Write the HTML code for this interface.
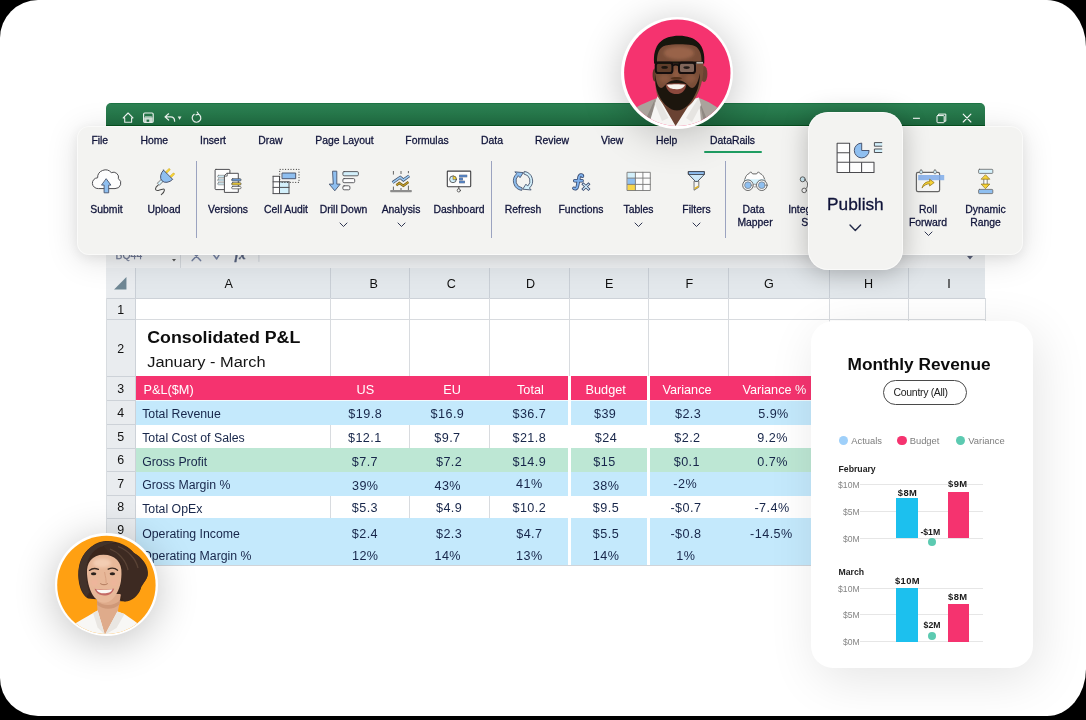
<!DOCTYPE html>
<html>
<head>
<meta charset="utf-8">
<title>DataRails</title>
<style>
*{box-sizing:border-box;margin:0;padding:0}
html,body{width:1086px;height:720px;overflow:hidden;background:#000}
body{font-family:"Liberation Sans",sans-serif;position:relative}
#bg{will-change:transform;position:absolute;left:0;top:0;width:1086px;height:716px;background:#fff;overflow:hidden;
 border-top-left-radius:38px 38px;border-bottom-left-radius:38px 38px;border-top-right-radius:39px 47px;border-bottom-right-radius:39px 47px}
.a{position:absolute}
.t{position:absolute;white-space:nowrap}
.hdr{position:absolute;background:#e3e8ec}
.ht{position:absolute;white-space:nowrap;font-size:12px;color:#111;text-align:center;line-height:14px}
.c{position:absolute;white-space:nowrap;font-size:12px;color:#1b2440;line-height:14px}
.n{text-align:center}
.w{color:#fff;font-size:12.7px}
.tab{position:absolute;font-size:10.4px;color:#10143a;-webkit-text-stroke:.28px #10143a;white-space:nowrap;line-height:12px}
.lbl{position:absolute;font-size:10.4px;color:#10143a;-webkit-text-stroke:.28px #10143a;white-space:nowrap;line-height:13px;text-align:center;width:90px;margin-left:-45px}
.rdiv{position:absolute;top:160.5px;width:1.2px;height:77px;background:#9ba3c0}
svg{position:absolute;overflow:visible}
</style>
</head>
<body>
<div id="bg">
<div class="a" style="left:106.2px;top:103px;width:879.3px;height:463px;background:#fff;border-radius:6px 5px 0 0"></div>
<div class="a" style="left:106.2px;top:102.8px;width:879.3px;height:30px;background:linear-gradient(#136c3b 0,#2d8153 1.2px,#26784b 11px,#1f6c41 21.8px,#07531f 22.4px,#07531f 23.2px);border-radius:5px 5px 0 0"></div>
<div class="a" style="left:106.2px;top:253px;width:879.3px;height:15.3px;background:#eef0f2;"></div>

<svg style="left:0;top:0" width="1086" height="716" viewBox="0 0 1086 716" fill="none" stroke="#fff" stroke-linejoin="round" stroke-linecap="round">
<!-- home -->
<path d="M123.2 117.9L128.1 113L133 117.9H131.6V122.3H124.7V117.9Z" stroke-width="1.1" stroke-opacity=".92"/>
<!-- save -->
<rect x="143.6" y="113" width="9.6" height="9.4" rx="1.2" stroke-width="1.2" stroke-opacity=".92"/>
<rect x="144.2" y="117.4" width="8.4" height="4.6" fill="#fff" fill-opacity=".8" stroke="none"/>
<rect x="146.6" y="119.6" width="2.6" height="2.2" fill="#1f6e42" stroke="none"/>
<path d="M145.4 116.9H151.4" stroke-width=".9" stroke-opacity=".9"/>
<!-- undo -->
<path d="M168.6 113.8L165 116.9L168.6 120M165.4 116.9H170.6C173.4 116.9 174.6 118.8 174.6 121.2" stroke-width="1.25" stroke-opacity=".92"/>
<path d="M177.7 116.6H181.5L179.6 119.7Z" fill="#fff" fill-opacity=".9" stroke="none"/>
<!-- redo -->
<path d="M194.2 114.3A4.3 4.3 0 1 0 198.2 114" stroke-width="1.2" stroke-opacity=".92"/>
<path d="M197.2 112L198.5 114.2L196 114.9" stroke-width="1.1" stroke-opacity=".92"/>
<!-- window controls -->
<path d="M913 118.3H919.9" stroke-width="1.1" stroke-linecap="butt"/>
<rect x="937" y="115.6" width="7.2" height="7.1" rx=".8" stroke-width="1"/>
<path d="M938.6 115.4V114.1H945.8V121.2H944.4" stroke-width="1"/>
<path d="M963.2 114.2L970.9 122M970.9 114.2L963.2 122" stroke-width="1.1"/>
</svg>

<div class="t" style="left:115.6px;top:250.2px;font-size:10.4px;color:#6f7893;-webkit-text-stroke:.25px #6f7893;line-height:12px">BQ44</div>
<svg style="left:171.8px;top:259px" width="4" height="2.6" viewBox="0 0 4 2.6"><path d="M0 0H4L2 2.6Z" fill="#555"/></svg>
<div class="a" style="left:180.2px;top:254px;width:1px;height:14px;background:#d4d8dd;"></div>
<svg style="left:0;top:0" width="1086" height="716" viewBox="0 0 1086 716" fill="none" stroke="#8d96b0" stroke-width="1" stroke-linecap="round">
<path d="M192.2 251.8L200.6 260.6M200.6 251.8L192.2 260.6" stroke="#7683a3" stroke-width="1.5"/>
<path d="M212.6 253.6L216.7 259L221.4 250.8" stroke="#7683a3" stroke-width="1.5" stroke-linejoin="round"/>
<path d="M258.9 254V261.5" stroke="#cfd4da"/>
</svg>
<div class="t" style="left:234.5px;top:247.6px;font-family:'Liberation Serif',serif;font-style:italic;font-weight:bold;font-size:13.5px;color:#59647f;-webkit-text-stroke:.3px #59647f;line-height:14px">fx</div>
<div class="a" style="left:968.5px;top:254.5px;width:0px;height:0px;background:transparent;"></div>
<svg style="left:966.6px;top:256.2px" width="6" height="3.6" viewBox="0 0 6 3.6"><path d="M0 0H6L3 3.6Z" fill="#596078"/></svg>
<div class="a" style="left:106.2px;top:268.2px;width:879.0999999999999px;height:29.80000000000001px;background:#e3e8ec;"></div>
<div class="a" style="left:106.2px;top:268.2px;width:29.299999999999997px;height:296.50000000000006px;background:#e9ecef;"></div>
<div class="a" style="left:135.0px;top:268.2px;width:1px;height:29.80000000000001px;background:#c9cfd6;"></div>
<div class="a" style="left:329.8px;top:268.2px;width:1px;height:29.80000000000001px;background:#c9cfd6;"></div>
<div class="a" style="left:409.1px;top:268.2px;width:1px;height:29.80000000000001px;background:#c9cfd6;"></div>
<div class="a" style="left:488.9px;top:268.2px;width:1px;height:29.80000000000001px;background:#c9cfd6;"></div>
<div class="a" style="left:568.7px;top:268.2px;width:1px;height:29.80000000000001px;background:#c9cfd6;"></div>
<div class="a" style="left:648.4px;top:268.2px;width:1px;height:29.80000000000001px;background:#c9cfd6;"></div>
<div class="a" style="left:728.3px;top:268.2px;width:1px;height:29.80000000000001px;background:#c9cfd6;"></div>
<div class="a" style="left:828.6px;top:268.2px;width:1px;height:29.80000000000001px;background:#c9cfd6;"></div>
<div class="a" style="left:908.0px;top:268.2px;width:1px;height:29.80000000000001px;background:#c9cfd6;"></div>
<div class="a" style="left:106.2px;top:297.5px;width:879.0999999999999px;height:1px;background:#cdd2d8;"></div>
<div class="t" style="left:208.60px;top:276px;width:40px;text-align:center;font-size:12.6px;line-height:16px;color:#111;">A</div>
<div class="t" style="left:353.60px;top:276px;width:40px;text-align:center;font-size:12.6px;line-height:16px;color:#111;">B</div>
<div class="t" style="left:431.40px;top:276px;width:40px;text-align:center;font-size:12.6px;line-height:16px;color:#111;">C</div>
<div class="t" style="left:510.60px;top:276px;width:40px;text-align:center;font-size:12.6px;line-height:16px;color:#111;">D</div>
<div class="t" style="left:589.10px;top:276px;width:40px;text-align:center;font-size:12.6px;line-height:16px;color:#111;">E</div>
<div class="t" style="left:669.30px;top:276px;width:40px;text-align:center;font-size:12.6px;line-height:16px;color:#111;">F</div>
<div class="t" style="left:748.80px;top:276px;width:40px;text-align:center;font-size:12.6px;line-height:16px;color:#111;">G</div>
<div class="t" style="left:848.50px;top:276px;width:40px;text-align:center;font-size:12.6px;line-height:16px;color:#111;">H</div>
<div class="t" style="left:928.90px;top:276px;width:40px;text-align:center;font-size:12.6px;line-height:16px;color:#111;">I</div>
<svg style="left:113.5px;top:277px" width="12.5" height="12.4" viewBox="0 0 12 12"><path d="M12 0V12H0Z" fill="#6f8794"/></svg>
<div class="a" style="left:106.2px;top:297.5px;width:29.299999999999997px;height:1px;background:#cdd2d8;"></div>
<div class="a" style="left:106.2px;top:319.0px;width:29.299999999999997px;height:1px;background:#cdd2d8;"></div>
<div class="a" style="left:106.2px;top:375.7px;width:29.299999999999997px;height:1px;background:#cdd2d8;"></div>
<div class="a" style="left:106.2px;top:399.8px;width:29.299999999999997px;height:1px;background:#cdd2d8;"></div>
<div class="a" style="left:106.2px;top:424.4px;width:29.299999999999997px;height:1px;background:#cdd2d8;"></div>
<div class="a" style="left:106.2px;top:447.9px;width:29.299999999999997px;height:1px;background:#cdd2d8;"></div>
<div class="a" style="left:106.2px;top:471.3px;width:29.299999999999997px;height:1px;background:#cdd2d8;"></div>
<div class="a" style="left:106.2px;top:495.3px;width:29.299999999999997px;height:1px;background:#cdd2d8;"></div>
<div class="a" style="left:106.2px;top:517.9px;width:29.299999999999997px;height:1px;background:#cdd2d8;"></div>
<div class="a" style="left:135.0px;top:298px;width:1px;height:266.70000000000005px;background:#cdd2d8;"></div>
<div class="a" style="left:106.2px;top:298px;width:1px;height:266.70000000000005px;background:#d8dce0;"></div>
<div class="t" style="left:106.80px;top:302px;width:28px;text-align:center;font-size:12.4px;line-height:16px;color:#111;">1</div>
<div class="t" style="left:106.80px;top:341px;width:28px;text-align:center;font-size:12.4px;line-height:16px;color:#111;">2</div>
<div class="t" style="left:106.80px;top:381px;width:28px;text-align:center;font-size:12.4px;line-height:16px;color:#111;">3</div>
<div class="t" style="left:106.80px;top:405px;width:28px;text-align:center;font-size:12.4px;line-height:16px;color:#111;">4</div>
<div class="t" style="left:106.80px;top:429px;width:28px;text-align:center;font-size:12.4px;line-height:16px;color:#111;">5</div>
<div class="t" style="left:106.80px;top:452px;width:28px;text-align:center;font-size:12.4px;line-height:16px;color:#111;">6</div>
<div class="t" style="left:106.80px;top:476px;width:28px;text-align:center;font-size:12.4px;line-height:16px;color:#111;">7</div>
<div class="t" style="left:106.80px;top:499px;width:28px;text-align:center;font-size:12.4px;line-height:16px;color:#111;">8</div>
<div class="t" style="left:106.80px;top:522px;width:28px;text-align:center;font-size:12.4px;line-height:16px;color:#111;">9</div>
<div class="a" style="left:329.8px;top:298px;width:1px;height:78.19999999999999px;background:#d8dbdf;"></div>
<div class="a" style="left:409.1px;top:298px;width:1px;height:78.19999999999999px;background:#d8dbdf;"></div>
<div class="a" style="left:488.9px;top:298px;width:1px;height:78.19999999999999px;background:#d8dbdf;"></div>
<div class="a" style="left:568.7px;top:298px;width:1px;height:78.19999999999999px;background:#d8dbdf;"></div>
<div class="a" style="left:648.4px;top:298px;width:1px;height:78.19999999999999px;background:#d8dbdf;"></div>
<div class="a" style="left:728.3px;top:298px;width:1px;height:78.19999999999999px;background:#d8dbdf;"></div>
<div class="a" style="left:828.6px;top:298px;width:1px;height:78.19999999999999px;background:#d8dbdf;"></div>
<div class="a" style="left:908.0px;top:298px;width:1px;height:78.19999999999999px;background:#d8dbdf;"></div>
<div class="a" style="left:135.5px;top:319.0px;width:849.8px;height:1px;background:#d8dbdf;"></div>
<div class="a" style="left:135.5px;top:376.2px;width:693.6px;height:24.100000000000023px;background:#f5336f;"></div>
<div class="a" style="left:135.5px;top:400.3px;width:693.6px;height:24.599999999999966px;background:#c4e9fc;"></div>
<div class="a" style="left:135.5px;top:400.0px;width:693.6px;height:1px;background:rgba(255,255,255,.75);"></div>
<div class="a" style="left:135.5px;top:448.4px;width:693.6px;height:23.400000000000034px;background:#bde7d4;"></div>
<div class="a" style="left:135.5px;top:471.8px;width:693.6px;height:24.0px;background:#c4e9fc;"></div>
<div class="a" style="left:135.5px;top:518.4px;width:693.6px;height:46.30000000000007px;background:#c4e9fc;"></div>
<div class="a" style="left:329.8px;top:424.9px;width:1px;height:23.5px;background:#d8dbdf;"></div>
<div class="a" style="left:409.1px;top:424.9px;width:1px;height:23.5px;background:#d8dbdf;"></div>
<div class="a" style="left:488.9px;top:424.9px;width:1px;height:23.5px;background:#d8dbdf;"></div>
<div class="a" style="left:329.8px;top:495.8px;width:1px;height:22.599999999999966px;background:#d8dbdf;"></div>
<div class="a" style="left:409.1px;top:495.8px;width:1px;height:22.599999999999966px;background:#d8dbdf;"></div>
<div class="a" style="left:488.9px;top:495.8px;width:1px;height:22.599999999999966px;background:#d8dbdf;"></div>
<div class="a" style="left:567.7px;top:376.2px;width:3.6px;height:188.50000000000006px;background:#fff;"></div>
<div class="a" style="left:646.6px;top:376.2px;width:3.6px;height:188.50000000000006px;background:#fff;"></div>
<div class="a" style="left:985px;top:298px;width:1px;height:266.70000000000005px;background:#d9dde1;"></div>
<div class="a" style="left:106.2px;top:564.7px;width:723.9px;height:1px;background:#d0d4d9;"></div>
<div class="t" style="left:147.20px;top:326px;font-size:17.8px;line-height:22px;color:#0d0d0d;font-weight:bold;transform:scaleY(0.895);transform-origin:0 17px;">Consolidated P&amp;L</div>
<div class="t" style="left:147.20px;top:351px;font-size:16.4px;line-height:20px;color:#151515;transform:scaleY(0.877);transform-origin:0 16px;">January - March</div>
<div class="t" style="left:143.60px;top:382px;font-size:12.7px;line-height:16px;color:#fff;">P&amp;L($M)</div>
<div class="t" style="left:305.40px;top:382px;width:120px;text-align:center;font-size:12.7px;line-height:16px;color:#fff;">US</div>
<div class="t" style="left:392.10px;top:382px;width:120px;text-align:center;font-size:12.7px;line-height:16px;color:#fff;">EU</div>
<div class="t" style="left:470.40px;top:382px;width:120px;text-align:center;font-size:12.7px;line-height:16px;color:#fff;">Total</div>
<div class="t" style="left:545.70px;top:382px;width:120px;text-align:center;font-size:12.7px;line-height:16px;color:#fff;">Budget</div>
<div class="t" style="left:627.00px;top:382px;width:120px;text-align:center;font-size:12.7px;line-height:16px;color:#fff;">Variance</div>
<div class="t" style="left:714.40px;top:382px;width:120px;text-align:center;font-size:12.7px;line-height:16px;color:#fff;">Variance %</div>
<div class="t" style="left:142.20px;top:407px;font-size:12.3px;line-height:15px;color:#17264a;">Total Revenue</div>
<div class="t" style="left:142.20px;top:431px;font-size:12.3px;line-height:15px;color:#17264a;">Total Cost of Sales</div>
<div class="t" style="left:142.20px;top:455px;font-size:12.3px;line-height:15px;color:#17264a;">Gross Profit</div>
<div class="t" style="left:142.20px;top:478px;font-size:12.3px;line-height:15px;color:#17264a;">Gross Margin %</div>
<div class="t" style="left:142.20px;top:502px;font-size:12.3px;line-height:15px;color:#17264a;">Total OpEx</div>
<div class="t" style="left:142.20px;top:527px;font-size:12.3px;line-height:15px;color:#17264a;">Operating Income</div>
<div class="t" style="left:142.20px;top:549px;font-size:12.3px;line-height:15px;color:#17264a;">Operating Margin %</div>
<div class="t" style="left:305.23px;top:406px;width:120px;text-align:center;font-size:12.6px;line-height:16px;color:#17264a;letter-spacing:0.45px;">$19.8</div>
<div class="t" style="left:387.43px;top:406px;width:120px;text-align:center;font-size:12.6px;line-height:16px;color:#17264a;letter-spacing:0.45px;">$16.9</div>
<div class="t" style="left:469.33px;top:406px;width:120px;text-align:center;font-size:12.6px;line-height:16px;color:#17264a;letter-spacing:0.45px;">$36.7</div>
<div class="t" style="left:545.12px;top:406px;width:120px;text-align:center;font-size:12.6px;line-height:16px;color:#17264a;letter-spacing:0.45px;">$39</div>
<div class="t" style="left:628.12px;top:406px;width:120px;text-align:center;font-size:12.6px;line-height:16px;color:#17264a;letter-spacing:0.45px;">$2.3</div>
<div class="t" style="left:713.52px;top:406px;width:120px;text-align:center;font-size:12.6px;line-height:16px;color:#17264a;letter-spacing:0.45px;">5.9%</div>
<div class="t" style="left:304.83px;top:430px;width:120px;text-align:center;font-size:12.6px;line-height:16px;color:#17264a;letter-spacing:0.45px;">$12.1</div>
<div class="t" style="left:387.43px;top:430px;width:120px;text-align:center;font-size:12.6px;line-height:16px;color:#17264a;letter-spacing:0.45px;">$9.7</div>
<div class="t" style="left:469.33px;top:430px;width:120px;text-align:center;font-size:12.6px;line-height:16px;color:#17264a;letter-spacing:0.45px;">$21.8</div>
<div class="t" style="left:546.02px;top:430px;width:120px;text-align:center;font-size:12.6px;line-height:16px;color:#17264a;letter-spacing:0.45px;">$24</div>
<div class="t" style="left:627.43px;top:430px;width:120px;text-align:center;font-size:12.6px;line-height:16px;color:#17264a;letter-spacing:0.45px;">$2.2</div>
<div class="t" style="left:712.62px;top:430px;width:120px;text-align:center;font-size:12.6px;line-height:16px;color:#17264a;letter-spacing:0.45px;">9.2%</div>
<div class="t" style="left:304.93px;top:454px;width:120px;text-align:center;font-size:12.6px;line-height:16px;color:#17264a;letter-spacing:0.45px;">$7.7</div>
<div class="t" style="left:389.12px;top:454px;width:120px;text-align:center;font-size:12.6px;line-height:16px;color:#17264a;letter-spacing:0.45px;">$7.2</div>
<div class="t" style="left:469.33px;top:454px;width:120px;text-align:center;font-size:12.6px;line-height:16px;color:#17264a;letter-spacing:0.45px;">$14.9</div>
<div class="t" style="left:544.52px;top:454px;width:120px;text-align:center;font-size:12.6px;line-height:16px;color:#17264a;letter-spacing:0.45px;">$15</div>
<div class="t" style="left:626.83px;top:454px;width:120px;text-align:center;font-size:12.6px;line-height:16px;color:#17264a;letter-spacing:0.45px;">$0.1</div>
<div class="t" style="left:712.62px;top:454px;width:120px;text-align:center;font-size:12.6px;line-height:16px;color:#17264a;letter-spacing:0.45px;">0.7%</div>
<div class="t" style="left:305.23px;top:478px;width:120px;text-align:center;font-size:12.6px;line-height:16px;color:#17264a;letter-spacing:0.45px;">39%</div>
<div class="t" style="left:387.73px;top:478px;width:120px;text-align:center;font-size:12.6px;line-height:16px;color:#17264a;letter-spacing:0.45px;">43%</div>
<div class="t" style="left:469.33px;top:476px;width:120px;text-align:center;font-size:12.6px;line-height:16px;color:#17264a;letter-spacing:0.45px;">41%</div>
<div class="t" style="left:625.23px;top:476px;width:120px;text-align:center;font-size:12.6px;line-height:16px;color:#17264a;letter-spacing:0.45px;">-2%</div>
<div class="t" style="left:546.02px;top:478px;width:120px;text-align:center;font-size:12.6px;line-height:16px;color:#17264a;letter-spacing:0.45px;">38%</div>
<div class="t" style="left:304.93px;top:500px;width:120px;text-align:center;font-size:12.6px;line-height:16px;color:#17264a;letter-spacing:0.45px;">$5.3</div>
<div class="t" style="left:389.12px;top:500px;width:120px;text-align:center;font-size:12.6px;line-height:16px;color:#17264a;letter-spacing:0.45px;">$4.9</div>
<div class="t" style="left:469.33px;top:500px;width:120px;text-align:center;font-size:12.6px;line-height:16px;color:#17264a;letter-spacing:0.45px;">$10.2</div>
<div class="t" style="left:546.02px;top:500px;width:120px;text-align:center;font-size:12.6px;line-height:16px;color:#17264a;letter-spacing:0.45px;">$9.5</div>
<div class="t" style="left:625.93px;top:500px;width:120px;text-align:center;font-size:12.6px;line-height:16px;color:#17264a;letter-spacing:0.45px;">-$0.7</div>
<div class="t" style="left:712.02px;top:500px;width:120px;text-align:center;font-size:12.6px;line-height:16px;color:#17264a;letter-spacing:0.45px;">-7.4%</div>
<div class="t" style="left:304.93px;top:526px;width:120px;text-align:center;font-size:12.6px;line-height:16px;color:#17264a;letter-spacing:0.45px;">$2.4</div>
<div class="t" style="left:389.12px;top:526px;width:120px;text-align:center;font-size:12.6px;line-height:16px;color:#17264a;letter-spacing:0.45px;">$2.3</div>
<div class="t" style="left:469.33px;top:526px;width:120px;text-align:center;font-size:12.6px;line-height:16px;color:#17264a;letter-spacing:0.45px;">$4.7</div>
<div class="t" style="left:546.02px;top:526px;width:120px;text-align:center;font-size:12.6px;line-height:16px;color:#17264a;letter-spacing:0.45px;">$5.5</div>
<div class="t" style="left:625.93px;top:526px;width:120px;text-align:center;font-size:12.6px;line-height:16px;color:#17264a;letter-spacing:0.45px;">-$0.8</div>
<div class="t" style="left:711.43px;top:526px;width:120px;text-align:center;font-size:12.6px;line-height:16px;color:#17264a;letter-spacing:0.45px;">-14.5%</div>
<div class="t" style="left:305.23px;top:548px;width:120px;text-align:center;font-size:12.6px;line-height:16px;color:#17264a;letter-spacing:0.45px;">12%</div>
<div class="t" style="left:387.73px;top:548px;width:120px;text-align:center;font-size:12.6px;line-height:16px;color:#17264a;letter-spacing:0.45px;">14%</div>
<div class="t" style="left:469.33px;top:548px;width:120px;text-align:center;font-size:12.6px;line-height:16px;color:#17264a;letter-spacing:0.45px;">13%</div>
<div class="t" style="left:546.02px;top:548px;width:120px;text-align:center;font-size:12.6px;line-height:16px;color:#17264a;letter-spacing:0.45px;">14%</div>
<div class="t" style="left:625.93px;top:548px;width:120px;text-align:center;font-size:12.6px;line-height:16px;color:#17264a;letter-spacing:0.45px;">1%</div>
<div class="a" style="left:77.2px;top:125.8px;width:946.2px;height:129px;background:#f3f3f1;border-radius:12px;box-shadow:0 3px 12px rgba(0,0,0,.065),0 5px 32px rgba(0,0,0,.125),inset 0 0 0 1px rgba(255,255,255,.55)"></div>
<div class="tab" style="left:91.4px;top:134.7px">File</div>
<div class="tab" style="left:140.4px;top:134.7px">Home</div>
<div class="tab" style="left:200px;top:134.7px">Insert</div>
<div class="tab" style="left:258.3px;top:134.7px">Draw</div>
<div class="tab" style="left:315.3px;top:134.7px">Page Layout</div>
<div class="tab" style="left:405.3px;top:134.7px">Formulas</div>
<div class="tab" style="left:481px;top:134.7px">Data</div>
<div class="tab" style="left:535px;top:134.7px">Review</div>
<div class="tab" style="left:601px;top:134.7px">View</div>
<div class="tab" style="left:656px;top:134.7px">Help</div>
<div class="tab" style="left:710px;top:134.7px">DataRails</div>
<div class="a" style="left:704.3px;top:150.9px;width:58px;height:2.1px;background:#1f9d62;border-radius:1px"></div>
<div class="rdiv" style="left:195.5px"></div>
<div class="rdiv" style="left:490.8px"></div>
<div class="rdiv" style="left:724.9px"></div>
<div class="lbl" style="left:106.5px;top:203px">Submit</div>
<div class="lbl" style="left:164px;top:203px">Upload</div>
<div class="lbl" style="left:228px;top:203px">Versions</div>
<div class="lbl" style="left:286px;top:203px">Cell Audit</div>
<div class="lbl" style="left:343.5px;top:203px">Drill Down</div>
<div class="lbl" style="left:401px;top:203px">Analysis</div>
<div class="lbl" style="left:459px;top:203px">Dashboard</div>
<div class="lbl" style="left:523px;top:203px">Refresh</div>
<div class="lbl" style="left:581px;top:203px">Functions</div>
<div class="lbl" style="left:638.5px;top:203px">Tables</div>
<div class="lbl" style="left:696.5px;top:203px">Filters</div>
<div class="lbl" style="left:755px;top:203px">Data&nbsp;<br>Mapper</div>
<div class="lbl" style="left:812.7px;top:203px">Integration<br>Sync</div>
<div class="lbl" style="left:928px;top:203px">Roll<br>Forward</div>
<div class="lbl" style="left:985.5px;top:203px">Dynamic<br>Range</div>
<svg style="left:340.0px;top:222.75px" width="7" height="3.5" viewBox="0 0 7 3.5"><path d="M0 0L3.5 3.5L7 0" fill="none" stroke="#252c4a" stroke-width="0.95" stroke-linecap="round" stroke-linejoin="round"/></svg>
<svg style="left:397.5px;top:222.75px" width="7" height="3.5" viewBox="0 0 7 3.5"><path d="M0 0L3.5 3.5L7 0" fill="none" stroke="#252c4a" stroke-width="0.95" stroke-linecap="round" stroke-linejoin="round"/></svg>
<svg style="left:635.0px;top:222.75px" width="7" height="3.5" viewBox="0 0 7 3.5"><path d="M0 0L3.5 3.5L7 0" fill="none" stroke="#252c4a" stroke-width="0.95" stroke-linecap="round" stroke-linejoin="round"/></svg>
<svg style="left:693.0px;top:222.75px" width="7" height="3.5" viewBox="0 0 7 3.5"><path d="M0 0L3.5 3.5L7 0" fill="none" stroke="#252c4a" stroke-width="0.95" stroke-linecap="round" stroke-linejoin="round"/></svg>
<svg style="left:924.5px;top:231.75px" width="7" height="3.5" viewBox="0 0 7 3.5"><path d="M0 0L3.5 3.5L7 0" fill="none" stroke="#252c4a" stroke-width="0.95" stroke-linecap="round" stroke-linejoin="round"/></svg>

<svg style="left:0;top:0" width="1086" height="716" viewBox="0 0 1086 716" fill="none" stroke-linejoin="round" stroke-linecap="round">
<!-- submit: cloud + arrow -->
<path d="M98 188.6A5.4 5.4 0 0 1 97.6 177.8A7.8 7.8 0 0 1 111.3 172.6A5.2 5.2 0 0 1 118.4 178.7A5.4 5.4 0 0 1 115.4 188.6Z" fill="#fdfdfd" stroke="#4e4e52" stroke-width="1"/>
<path d="M106.4 179L110.9 185.1H108.7V192.8H104.1V185.1H101.9Z" fill="#8fbff0" stroke="#46556f" stroke-width=".9"/>
<!-- upload: plug -->
<path d="M158 185.3C155 187.4 154.3 190.9 158.3 190.4C161.5 190 164.6 187.3 164.4 190.4C164.3 192 162.6 193.5 161.3 194.6" stroke="#4a4a4a" stroke-width="1.05"/>
<g transform="translate(168.1 174.75) rotate(45)">
<rect x="-3.9" y="-5.2" width="2" height="5.6" rx=".8" fill="#f7d336" stroke="#c9a21a" stroke-width=".4"/>
<rect x="2.3" y="-5.2" width="2" height="5.6" rx=".8" fill="#f7d336" stroke="#c9a21a" stroke-width=".4"/>
<rect x="-1.2" y="7.6" width="2.4" height="6" fill="#d3f0fb" stroke="#555" stroke-width=".7"/>
<path d="M-6.5 0H6.5A6.5 8.6 0 0 1 -6.5 0Z" fill="#8fbff0" stroke="#46506a" stroke-width=".9"/>
</g>
<!-- versions -->
<rect x="215.1" y="169.4" width="14.8" height="20.2" rx=".8" fill="#fdfdfd" stroke="#4e4e52" stroke-width="1"/>
<rect x="217.6" y="175.3" width="8" height="2.1" rx="1" fill="#d3f0fb" stroke="#777" stroke-width=".6"/>
<rect x="217.6" y="179" width="8" height="2.1" rx="1" fill="#d3f0fb" stroke="#777" stroke-width=".6"/>
<rect x="217.6" y="182.7" width="8" height="2.1" rx="1" fill="#d3f0fb" stroke="#777" stroke-width=".6"/>
<path d="M227.2 173.3H238.3V192.4H224.4V176.1Z" fill="#fdfdfd" stroke="#4e4e52" stroke-width="1"/>
<path d="M224.4 176.1H227.2V173.3" stroke="#4e4e52" stroke-width=".8"/>
<rect x="231.6" y="178.7" width="9.5" height="2.3" rx="1.1" fill="#6f9fd9" stroke="#4a4a4a" stroke-width=".7"/>
<rect x="231.6" y="182.7" width="9.5" height="2.3" rx="1.1" fill="#f7d336" stroke="#4a4a4a" stroke-width=".7"/>
<rect x="231.6" y="186.5" width="9.5" height="2.3" rx="1.1" fill="#fdfdfd" stroke="#4a4a4a" stroke-width=".7"/>
<!-- cell audit -->
<rect x="279.6" y="181.8" width="9.4" height="11.8" fill="#d3f0fb"/>
<rect x="273.1" y="176.3" width="6.4" height="17.3" fill="#fdfdfd"/>
<path d="M273.1 176.3H279.5M273.1 181.8H289M273.1 187.4H289M273.1 193.6H289M273.1 176.3V193.6M279.5 176.3V193.6M289 181.8V193.6" stroke="#4e4e52" stroke-width="1"/>
<rect x="279.7" y="169.4" width="19.3" height="13" stroke="#333" stroke-width="1" stroke-dasharray="1 1.7" stroke-linecap="butt"/>
<rect x="282.4" y="173" width="13.3" height="5.7" fill="#8fbff0" stroke="#3f4a63" stroke-width=".9"/>
<!-- drill down -->
<path d="M332.9 171.2H336.8V184.1H340.2L334.8 190.8L329.2 184.1H332.9Z" fill="#8fbff0" stroke="#46556f" stroke-width=".9"/>
<rect x="342.9" y="171.6" width="15.5" height="4.2" rx="1.2" fill="#d3f0fb" stroke="#4e4e52" stroke-width=".9"/>
<rect x="342.9" y="178.6" width="11.8" height="4.1" rx="1.2" fill="#fdfdfd" stroke="#4e4e52" stroke-width=".9"/>
<rect x="342.9" y="185.8" width="7" height="4" rx="1.2" fill="#fdfdfd" stroke="#4e4e52" stroke-width=".9"/>
<!-- analysis -->
<path d="M393.4 171V174.6M401 171V174M408.4 171V173.2M393.4 186.6V190M401 188V190M408.4 185.6V190" stroke="#555" stroke-width=".9" stroke-linecap="butt"/>
<rect x="390.2" y="190" width="21.6" height="2.2" rx=".6" fill="#8d8d8d"/>
<path d="M392.6 182.6L400.2 177.3L403.4 180L409.2 175.9" stroke="#3d4a63" stroke-width="3" stroke-linecap="butt" stroke-linejoin="miter"/>
<path d="M392.6 182.6L400.2 177.3L403.4 180L409.2 175.9" stroke="#9dcbf3" stroke-width="1.6" stroke-linecap="butt" stroke-linejoin="miter"/>
<path d="M396.4 185.2L399.3 183L403.4 185.8L408.4 182" stroke="#6b5a1c" stroke-width="2.4" stroke-linecap="butt" stroke-linejoin="miter"/>
<path d="M396.4 185.2L399.3 183L403.4 185.8L408.4 182" stroke="#c19b2c" stroke-width="1.3" stroke-linecap="butt" stroke-linejoin="miter"/>
<!-- dashboard -->
<rect x="447.3" y="171.1" width="23.4" height="15.6" rx=".6" fill="#fdfdfd" stroke="#3e3e42" stroke-width="1.1"/>
<circle cx="453" cy="179.3" r="3.4" fill="#d3f0fb" stroke="#444" stroke-width=".8"/>
<path d="M453 179.3V175.9A3.4 3.4 0 0 1 456.4 179.3Z" fill="#f7d336" stroke="#444" stroke-width=".5"/>
<path d="M459.2 176H467.2M459.2 179H462.8M459.2 182H464.8" stroke="#3f4f73" stroke-width="2.3" stroke-linecap="butt"/>
<path d="M459.5 176H466.9M459.5 179H462.5M459.5 182H464.5" stroke="#5f93d6" stroke-width="1.3" stroke-linecap="butt"/>
<path d="M458.8 186.7V189" stroke="#444" stroke-width=".9"/>
<circle cx="458.8" cy="190.4" r="1.6" fill="#fdfdfd" stroke="#444" stroke-width=".8"/>
<!-- refresh -->
<path d="M521.33 190.35A9.6 9.6 0 0 1 516.58 173.77L514.84 171.84L523.29 172.6L520.06 177.63L518.32 175.7A7 7 0 0 0 521.78 187.79Z" fill="#8fbff0" stroke="#46556f" stroke-width=".9"/>
<path d="M524.67 171.45A9.6 9.6 0 0 1 529.42 188.03L531.16 189.96L522.71 189.2L525.94 184.17L527.68 186.1A7 7 0 0 0 524.22 174.01Z" fill="#d3f0fb" stroke="#46556f" stroke-width=".9"/>
<!-- functions fx -->
<g stroke-linecap="round">
<path d="M582.5 176.3C582.3 174.6 579.7 174.3 579.1 177L577.5 186C577 188.6 575.5 189.4 573.9 188.3M574.7 180.7H582.1" stroke="#33456b" stroke-width="3.5"/>
<path d="M582.5 176.3C582.3 174.6 579.7 174.3 579.1 177L577.5 186C577 188.6 575.5 189.4 573.9 188.3M574.7 180.7H582.1" stroke="#7fb0ea" stroke-width="1.9"/>
</g>
<g stroke-linecap="square">
<path d="M583.4 184.3L588.4 189M588.4 184.3L583.4 189" stroke="#33456b" stroke-width="2.9"/>
<path d="M583.4 184.3L588.4 189M588.4 184.3L583.4 189" stroke="#cfeaf8" stroke-width="1.3"/>
</g>
<!-- tables -->
<rect x="627.4" y="172.3" width="22.9" height="18.2" fill="#fdfdfd"/>
<rect x="627.4" y="172.3" width="8" height="5.8" fill="#d3f0fb"/>
<rect x="627.4" y="178.1" width="8" height="6.3" fill="#8fbff0"/>
<rect x="627.4" y="184.4" width="8" height="6.1" fill="#f8d64a"/>
<path d="M627.4 172.3H650.3V190.5H627.4ZM627.4 178.1H650.3M627.4 184.4H650.3M635.4 172.3V190.5M642.9 172.3V190.5" stroke="#777" stroke-width=".9"/>
<!-- filters -->
<path d="M694.4 181.2H698.8V187.2L694.4 190Z" fill="#f3f3f1" stroke="#555" stroke-width=".8"/>
<path d="M694.6 189.6L698.5 187.2V185.4L694.6 187.8Z" fill="#e0b21c" stroke="none"/>
<path d="M688.7 171.6H704.3V174.5L697.6 181.4H695.4L688.7 174.5Z" fill="#cfeafa" stroke="#3e4450" stroke-width=".9"/>
<path d="M688.7 171.6H704.3V174.5H688.7Z" fill="#8fbff0" stroke="#3e4450" stroke-width=".9"/>
<!-- data mapper binoculars -->
<path d="M744 183.5C745 177 746.5 174.5 748.8 173.8L750.7 171.8L752.6 173.9H756.6L758.4 171.8L760.4 173.8C762.8 174.5 764.4 177 765.6 183.5Z" fill="#fdfdfd" stroke="#555" stroke-width=".9"/>
<path d="M745 179.2H764.6L765.6 184H744Z" fill="#d3f0fb"/>
<circle cx="748" cy="185.2" r="5.3" fill="#fdfdfd" stroke="#555" stroke-width=".9"/>
<circle cx="761.8" cy="185.2" r="5.3" fill="#fdfdfd" stroke="#555" stroke-width=".9"/>
<circle cx="748" cy="185.2" r="3.4" fill="#8fbff0" stroke="#777" stroke-width=".7"/>
<circle cx="761.8" cy="185.2" r="3.4" fill="#8fbff0" stroke="#777" stroke-width=".7"/>
<circle cx="754.9" cy="185.6" r="1.5" fill="#fdfdfd" stroke="#777" stroke-width=".6"/>
<!-- integ (mostly hidden) -->
<path d="M804.8 180.2C808.5 181 808.5 186.5 806 188.6" stroke="#555" stroke-width=".9"/>
<circle cx="802.7" cy="179.3" r="2.5" fill="#d3f0fb" stroke="#555" stroke-width=".9"/>
<circle cx="804.2" cy="190.4" r="2.3" fill="#fdfdfd" stroke="#555" stroke-width=".9"/>
<!-- roll forward -->
<rect x="916.4" y="172.3" width="23.2" height="19.3" rx="1.6" fill="#f6f6f5" stroke="#666" stroke-width="1.2"/>
<rect x="919.8" y="170" width="2.6" height="3.8" rx="1.2" fill="#d3f0fb" stroke="#666" stroke-width=".7"/>
<rect x="933.7" y="170" width="2.6" height="3.8" rx="1.2" fill="#d3f0fb" stroke="#666" stroke-width=".7"/>
<rect x="918.2" y="175" width="26" height="5.2" fill="#7fabea" fill-opacity=".85"/>
<path d="M922.2 187.6C923.2 183.4 926.2 181.6 929.6 181.6V179.2L934.2 182.6L929.6 186V183.8C926.6 183.9 924.4 185.2 922.2 187.6Z" fill="#f7d336" stroke="#8a6d10" stroke-width=".7"/>
<!-- dynamic range -->
<rect x="978.6" y="169.3" width="14.2" height="4.1" rx=".8" fill="#d3f0fb" stroke="#666" stroke-width=".8"/>
<rect x="978.6" y="189.4" width="14.2" height="4.2" rx=".8" fill="#8fbff0" stroke="#666" stroke-width=".8"/>
<rect x="984.2" y="178.5" width="3" height="6.2" fill="#fdfdfd" stroke="#555" stroke-width=".7"/>
<path d="M985.7 175L989.8 179.2H981.5Z" fill="#f7d336" stroke="#8a6d10" stroke-width=".7"/>
<path d="M985.7 188.4L989.8 184.1H981.5Z" fill="#f7d336" stroke="#8a6d10" stroke-width=".7"/>
</svg>

<div class="a" style="left:807.8px;top:111.5px;width:95.2px;height:158.2px;background:#f3f3f1;border-radius:20px;box-shadow:0 3px 26px rgba(0,0,0,.25),inset 0 0 0 1px rgba(255,255,255,.55)"></div>
<div class="t" style="left:805.4px;width:100px;text-align:center;top:194px;font-size:17.3px;color:#10143a;-webkit-text-stroke:.3px #10143a;line-height:20px">Publish</div>
<svg style="left:850.1px;top:225.2px" width="10.6" height="5.6" viewBox="0 0 10.6 5.6"><path d="M0 0L5.3 5.6L10.6 0" fill="none" stroke="#252c4a" stroke-width="1.4" stroke-linecap="round" stroke-linejoin="round"/></svg>
<div class="a" style="left:810.6px;top:320.8px;width:222.6px;height:347.2px;background:#fff;border-radius:22px;box-shadow:6px 12px 50px rgba(0,0,0,.105)"></div>

<svg style="left:0;top:0" width="1086" height="716" viewBox="0 0 1086 716" fill="none" stroke-linejoin="round">
<!-- publish icon -->
<path d="M837.1 143.2H849.6V162.3H874V172.5H837.1Z" fill="#fdfdfd" stroke="#4a4a4e" stroke-width="1.05"/>
<path d="M837.1 152.8H849.6M837.1 162.3H849.6V172.5M861.6 162.3V172.5" stroke="#4a4a4e" stroke-width="1.05"/>
<path d="M861.7 150.5H869.1A7.4 7.4 0 1 1 861.7 143.1Z" fill="#8fbff0" stroke="#3f4a63" stroke-width=".9"/>
<path d="M882.2 142.6H874.4V146.2H882.2" fill="#d3f0fb" stroke="#3e3e44" stroke-width=".9"/>
<path d="M882.2 149H874.4V152.5H882.2" fill="#d3f0fb" stroke="#3e3e44" stroke-width=".9"/>
</svg>

<div class="t" style="left:847.50px;top:353px;font-size:17.3px;line-height:22px;color:#0c0c0c;font-weight:bold;transform:scaleY(0.936);transform-origin:0 17px;">Monthly Revenue</div>
<div class="a" style="left:883px;top:380px;width:84.2px;height:24.6px;border:1px solid #4a4a4a;border-radius:13px"></div>
<div class="t" style="left:893.6px;top:385.6px;font-size:10.5px;letter-spacing:-.33px;color:#222;line-height:13px">Country (All)</div>
<div class="a" style="left:838.5999999999999px;top:435.8px;width:9.4px;height:9.4px;border-radius:50%;background:#9fd0fa"></div>
<div class="t" style="left:851.2px;top:434.8px;font-size:9.4px;color:#7d7d7d;line-height:12px">Actuals</div>
<div class="a" style="left:897.3px;top:435.8px;width:9.4px;height:9.4px;border-radius:50%;background:#f5336f"></div>
<div class="t" style="left:909.7px;top:434.8px;font-size:9.4px;color:#7d7d7d;line-height:12px">Budget</div>
<div class="a" style="left:955.8px;top:435.8px;width:9.4px;height:9.4px;border-radius:50%;background:#5ccab1"></div>
<div class="t" style="left:968.3px;top:434.8px;font-size:9.4px;color:#7d7d7d;line-height:12px">Variance</div>
<div class="t" style="left:838.50px;top:464px;font-size:8.7px;line-height:11px;color:#222;font-weight:bold;">February</div>
<div class="a" style="left:860.3px;top:484.0px;width:122.5px;height:1px;background:#e6e6e6;"></div>
<div class="t" style="left:819.60px;top:480px;width:40px;text-align:right;font-size:8.6px;line-height:11px;color:#858585;">$10M</div>
<div class="a" style="left:860.3px;top:511.0px;width:122.5px;height:1px;background:#e6e6e6;"></div>
<div class="t" style="left:819.60px;top:507px;width:40px;text-align:right;font-size:8.6px;line-height:11px;color:#858585;">$5M</div>
<div class="a" style="left:860.3px;top:537.9px;width:122.5px;height:1px;background:#e6e6e6;"></div>
<div class="t" style="left:819.60px;top:534px;width:40px;text-align:right;font-size:8.6px;line-height:11px;color:#858585;">$0M</div>
<div class="a" style="left:896px;top:498.1px;width:21.5px;height:40.299999999999955px;background:#1cc0ee;"></div>
<div class="a" style="left:947.7px;top:492.1px;width:21.2px;height:46.299999999999955px;background:#f5336f;"></div>
<div class="t" style="left:877.52px;top:487px;width:60px;text-align:center;font-size:9.4px;line-height:12px;color:#1a1a1a;font-weight:bold;letter-spacing:0.45px;">$8M</div>
<div class="t" style="left:927.83px;top:478px;width:60px;text-align:center;font-size:9.4px;line-height:12px;color:#1a1a1a;font-weight:bold;letter-spacing:0.45px;">$9M</div>
<div class="t" style="left:900.30px;top:527px;width:60px;text-align:center;font-size:8.7px;line-height:11px;color:#1a1a1a;font-weight:bold;">-$1M</div>
<div class="a" style="left:928.3px;top:537.8px;width:8.2px;height:8.2px;border-radius:50%;background:#5ccab1"></div>
<div class="t" style="left:838.50px;top:567px;font-size:8.7px;line-height:11px;color:#222;font-weight:bold;">March</div>
<div class="a" style="left:860.3px;top:587.7px;width:122.5px;height:1px;background:#e6e6e6;"></div>
<div class="t" style="left:819.60px;top:584px;width:40px;text-align:right;font-size:8.6px;line-height:11px;color:#858585;">$10M</div>
<div class="a" style="left:860.3px;top:614.2px;width:122.5px;height:1px;background:#e6e6e6;"></div>
<div class="t" style="left:819.60px;top:610px;width:40px;text-align:right;font-size:8.6px;line-height:11px;color:#858585;">$5M</div>
<div class="a" style="left:860.3px;top:641.1px;width:122.5px;height:1px;background:#e6e6e6;"></div>
<div class="t" style="left:819.60px;top:637px;width:40px;text-align:right;font-size:8.6px;line-height:11px;color:#858585;">$0M</div>
<div class="a" style="left:896px;top:588.2px;width:21.5px;height:53.39999999999998px;background:#1cc0ee;"></div>
<div class="a" style="left:947.7px;top:603.9px;width:21.2px;height:37.700000000000045px;background:#f5336f;"></div>
<div class="t" style="left:877.52px;top:575px;width:60px;text-align:center;font-size:9.4px;line-height:12px;color:#1a1a1a;font-weight:bold;letter-spacing:0.45px;">$10M</div>
<div class="t" style="left:927.83px;top:591px;width:60px;text-align:center;font-size:9.4px;line-height:12px;color:#1a1a1a;font-weight:bold;letter-spacing:0.45px;">$8M</div>
<div class="t" style="left:902.00px;top:620px;width:60px;text-align:center;font-size:8.7px;line-height:11px;color:#1a1a1a;font-weight:bold;">$2M</div>
<div class="a" style="left:928.3px;top:631.8px;width:8.2px;height:8.2px;border-radius:50%;background:#5ccab1"></div>

<div class="a" style="left:621.4px;top:16.9px;width:111.8px;height:111.8px;border-radius:50%;background:#fff;box-shadow:0 6px 42px rgba(0,0,0,.24)"></div>
<svg style="left:0;top:0" width="1086" height="716" viewBox="0 0 1086 716">
<defs>
<clipPath id="c1"><circle cx="677.3" cy="72.8" r="53.2"/></clipPath>
<clipPath id="c2"><circle cx="106.4" cy="584.9" r="49.2"/></clipPath>
<filter id="bl" x="-10%" y="-10%" width="120%" height="120%"><feGaussianBlur stdDeviation=".55"/></filter>
<filter id="bl2" x="-20%" y="-20%" width="140%" height="140%"><feGaussianBlur stdDeviation="1.6"/></filter>
</defs>
<g clip-path="url(#c1)">
<rect x="620" y="15" width="116" height="116" fill="#f5336f"/>
<g filter="url(#bl)">
<!-- suit -->
<path d="M630 112C640 104 650 101 657 98L676 128L699 98C708 101 716 106 726 114V132H630Z" fill="#aaa39c"/>
<path d="M655 99L649 132H640Z" fill="#8f8882"/>
<path d="M699.5 101L706 132H712Z" fill="#8f8882"/>
<!-- shirt -->
<path d="M646.5 132L657.5 96.5L664 100L676 124L690 100L698.8 97.5L702 132Z" fill="#f6f5f3"/>
<path d="M661 101L675.6 126L691.5 101L684 106H668Z" fill="#6a4230"/>
<path d="M657.5 96.5L668.5 118L662 121L655 104Z" fill="#e6e4e1"/>
<path d="M698.8 97.5L686 118L692 122L701 105Z" fill="#e6e4e1"/>
<!-- ears -->
<ellipse cx="704" cy="74" rx="3.4" ry="8" fill="#6b4330"/>
<ellipse cx="654.6" cy="75" rx="2" ry="6.5" fill="#5b3828"/>
<!-- head -->
<path d="M654.6 62C653.5 44 664 37.5 679 37.5C694 37.5 705 45 703.6 64C703.4 76 702 86 696 97C691 106 684 110.5 677 110.5C670 110.5 662.5 105 658 97C654.5 88 654.8 76 654.6 62Z" fill="#7a4e38"/>
<ellipse cx="679" cy="53" rx="15" ry="6.5" fill="#99644a" filter="url(#bl2)"/>
<ellipse cx="664.5" cy="78.5" rx="5" ry="4" fill="#8a5840" filter="url(#bl2)"/>
<ellipse cx="690.5" cy="78.5" rx="5" ry="4" fill="#8a5840" filter="url(#bl2)"/>
<ellipse cx="676.3" cy="74.5" rx="3.6" ry="5.6" fill="#8d5a41" filter="url(#bl2)"/>
<!-- hair -->
<path d="M654.2 63.5C652.5 44 663 35.8 679 35.8C695.5 35.8 706 44.5 704.2 63.5L701.5 62.5C702 52.5 698.5 46.5 692.5 45.2C684.5 43.8 673 43.8 665.5 45.4C659.5 47 656.6 53 657 62.5Z" fill="#19120f"/>
<!-- beard -->
<path d="M655 73C655 84 656.4 91 659.4 96.5C663 104 670 110.6 677 110.6C684 110.6 690.6 104 694.2 96.5C697.4 91 699.8 84 700 73C698.6 80 696.5 85.5 693.5 87.6C690.5 89 688.5 85.6 686 83.2C683 80.6 680 79.9 676.5 79.9C673 79.9 670 80.6 667 83.2C664.5 85.6 662.5 89 659.8 87.6C657 85.5 656 80 655 73Z" fill="#1d1411"/>
<!-- mouth -->
<path d="M665.6 84.4C672 83 681 83 686.4 84.2C685.5 91 681.5 94 676.5 94C671 94 666.6 90.8 665.6 84.4Z" fill="#8c4a3c"/>
<path d="M667 84.8C672.5 84 680 84 685 84.7C684 88 680.5 89.2 676.2 89.2C671.6 89.2 668.2 88 667 84.8Z" fill="#f7f3ee"/>
<!-- nose shadow -->
<path d="M670.5 78.2C672.5 80.4 680 80.4 682.2 78.2C680.5 76.6 672.5 76.6 670.5 78.2Z" fill="#55331f"/>
<!-- glasses -->
<path d="M654.4 62.6H703.4" stroke="#151210" stroke-width="2.2"/>
<rect x="655.8" y="62.8" width="16.6" height="10.2" rx="2.6" fill="#2a1c16" fill-opacity=".35" stroke="#12100f" stroke-width="2"/>
<rect x="679" y="62.8" width="16" height="10.2" rx="2.6" fill="#8a8684" fill-opacity=".45" stroke="#12100f" stroke-width="2"/>
<path d="M672.6 65.6C674.6 64.2 676.8 64.2 678.8 65.6" stroke="#12100f" stroke-width="1.7" fill="none"/>
<path d="M696.4 62.8H703" stroke="#b9b4ae" stroke-width="1.8"/>
<ellipse cx="664.6" cy="67.4" rx="3.2" ry="1.4" fill="#1a1210"/>
<ellipse cx="686.6" cy="67.6" rx="3.2" ry="1.4" fill="#231a18"/>
</g>
</g>
</svg>

<div class="a" style="left:54.6px;top:533.4px;width:103.6px;height:103px;border-radius:50%;background:#fff;box-shadow:0 6px 42px rgba(0,0,0,.24)"></div>
<svg style="left:0;top:0" width="1086" height="716" viewBox="0 0 1086 716">
<g clip-path="url(#c2)">
<rect x="50" y="530" width="112" height="112" fill="#ffa012"/>
<g filter="url(#bl)">
<!-- hair back -->
<path d="M103.3 541.2C116 539.5 128 545 134 553C142 557.5 149.5 566.5 147.6 575.5C146 581 142 584 141 588C138.5 596 131.5 601.5 125.3 601.5L104 600L88 598.5C83.5 596 79.5 589 78.6 580C77.4 568 80 557 88 549.5C92.5 545 97.5 542.2 103.3 541.2Z" fill="#3a281f"/>
<!-- neck -->
<path d="M96.8 594L97.4 612L104.9 634.8L117.6 613L121 594Z" fill="#dfab8b"/>
<path d="M97 601C103 606.5 114 606.5 120.3 600L119.6 604.5C113.5 610 103.5 610 97.3 605Z" fill="#cf9878"/>
<!-- shirt -->
<path d="M70 627C78 621 86 617.5 93.1 613L97.6 610.5L104.9 634.8L103 642H66Z" fill="#f8f7f5"/>
<path d="M142 627C136 621.5 130 618 124.5 614L117.4 611.5L104.9 634.8L107 642H146Z" fill="#f8f7f5"/>
<path d="M93.1 613L97.6 610.5L104.9 634.8L97.6 627.5Z" fill="#e9e6e2"/>
<path d="M124.5 614L117.4 611.5L104.9 634.8L116.5 628Z" fill="#e9e6e2"/>
<!-- face -->
<path d="M87 574C86.2 563 92 554.8 103.5 554.8C115.5 554.8 122 562.5 121.6 574C121.4 584 118.5 592 113.5 598C110.5 601.5 107 602.8 104.2 602.8C100.8 602.8 97.5 601 94.5 597.5C90 592 87.6 583 87 574Z" fill="#e8b899"/>
<ellipse cx="102" cy="563" rx="9" ry="4.6" fill="#f3cdb3" filter="url(#bl2)"/>
<ellipse cx="94.5" cy="582.5" rx="4" ry="3.4" fill="#eeb59b" filter="url(#bl2)"/>
<ellipse cx="114" cy="582.5" rx="4" ry="3.4" fill="#eeb59b" filter="url(#bl2)"/>
<!-- hair front -->
<path d="M103.5 546C94 548.5 88 556.5 86.6 566C85.6 574 86.4 584 89.5 592L86.5 597.5C80.5 591 78 581 78.6 571C79.4 559 86.5 547.5 98 543.2C104 541 110 541 115.5 542.6C110.5 543.6 106.5 544.6 103.5 546Z" fill="#42302a"/>
<path d="M103.5 546C108.5 552 115 558.5 121.5 562.5C122.5 572 121.8 583 119.5 592.5L124.5 601.5C133.5 599 139.5 593.5 141 587C144.5 582 148.5 577.5 147.6 572.5C146.6 564 141 556.5 134 553C128 545.5 116.5 540.5 103.5 546Z" fill="#3d2b22"/>
<path d="M110 549C118 552 126 560 128 570M118 546.5C128 550 136 559 138 568" stroke="#5a4236" stroke-width="1.3" fill="none"/>
<!-- brows & eyes -->
<path d="M89.4 570.4C92 568.3 95.5 568.1 98.4 569.4M108.2 569.2C111 567.9 115 568.1 117.6 570.2" stroke="#3a2a22" stroke-width="1.3" fill="none" stroke-linecap="round"/>
<ellipse cx="93.6" cy="573.7" rx="2.7" ry="1.5" fill="#2c221e"/>
<ellipse cx="112.4" cy="573.7" rx="2.7" ry="1.5" fill="#2c221e"/>
<!-- nose -->
<path d="M100.6 583.6C102.4 585 105.6 585 107.4 583.6" stroke="#b98366" stroke-width="1.1" fill="none" stroke-linecap="round"/>
<path d="M104.6 572C105.4 577 106.4 580 106 583" stroke="#d9a283" stroke-width="1" fill="none"/>
<!-- mouth -->
<path d="M94.6 588.8C100.5 590 108.5 590 114.2 588.4C112.6 593.6 108.5 595.4 104.2 595.4C99.8 595.4 96.2 593.6 94.6 588.8Z" fill="#c46a65"/>
<path d="M96.2 589.4C101 590.2 108 590.2 112.6 589.2C111 592.4 108 593.2 104.2 593.2C100.6 593.2 97.6 592.4 96.2 589.4Z" fill="#fbf8f4"/>
</g>
</g>
</svg>

</div>
</body>
</html>
